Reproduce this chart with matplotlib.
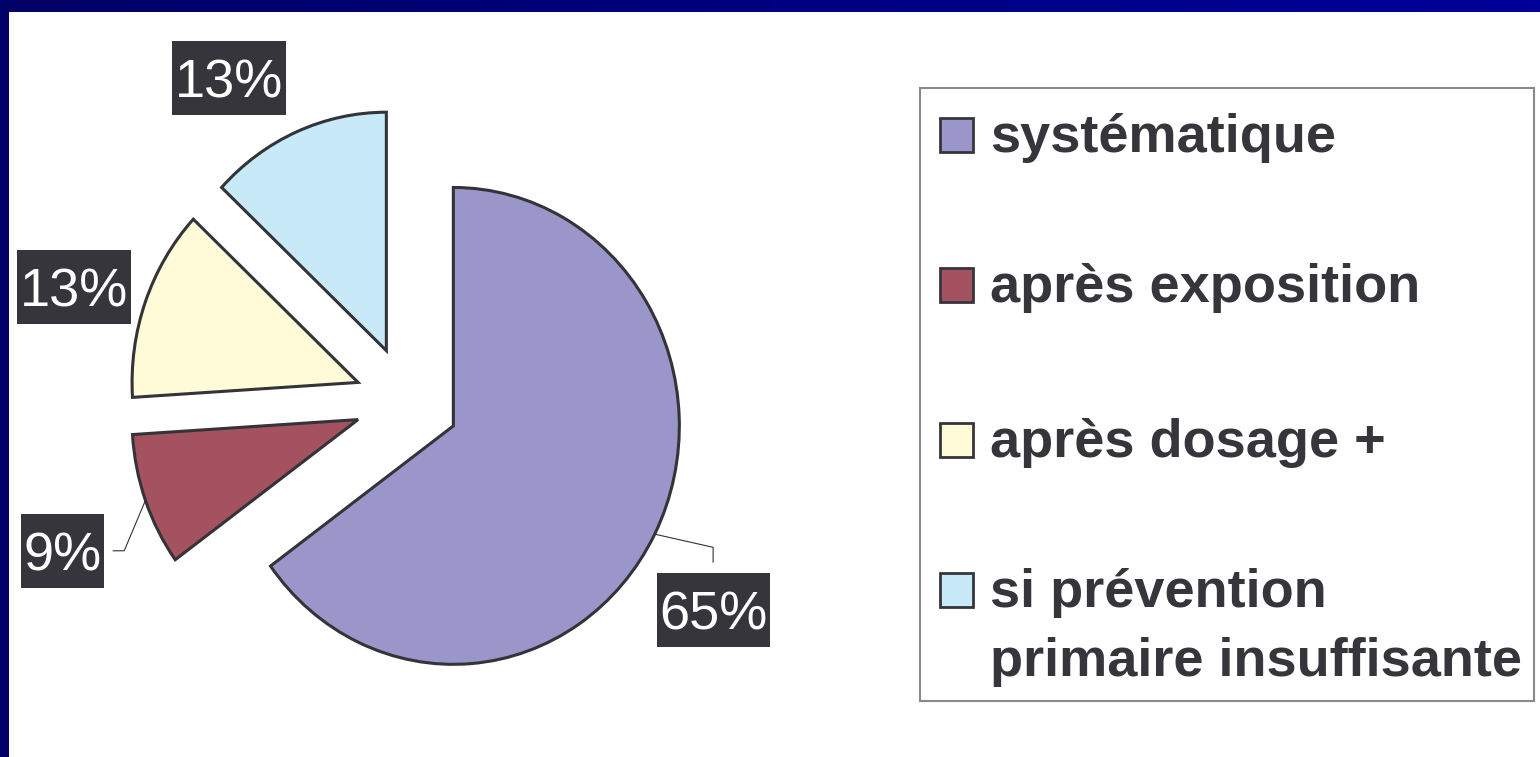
import numpy as np
import matplotlib.pyplot as plt
from matplotlib.patches import Rectangle
from matplotlib.colors import LinearSegmentedColormap
from matplotlib.transforms import IdentityTransform, ScaledTranslation

# données du camembert
categories = ['systématique', 'après exposition', 'après dosage +',
              'si prévention\nprimaire insuffisante']
parts = [65, 9, 13, 13]
pct_labels = ['65%', '9%', '13%', '13%']
colors = ['#9b96c9', '#a55260', '#fffad8', '#c7e9f8']

W, H = 1540, 757
SY = 1.055          # l'image d'origine est un peu étirée en hauteur
R = 226
DARK = '#36353b'
PCT_SIZE = 39

plt.rcParams['font.family'] = ['Liberation Sans', 'DejaVu Sans']

fig = plt.figure(figsize=(W / 100, H / 100), dpi=100)

# fond, bandeaux bleus et légende (coordonnées pixel, y vers le bas)
bg = fig.add_axes([0, 0, 1, 1])
navy = LinearSegmentedColormap.from_list('navy', ['#000066', '#00009a'])
bg.imshow(np.linspace(0, 1, 256).reshape(1, -1), cmap=navy,
          extent=(0, W, 12, 0), aspect='auto')
bg.add_patch(Rectangle((0, 0), 8.5, H, color='#000066', lw=0))
bg.set_xlim(0, W)
bg.set_ylim(H, 0)
bg.axis('off')

bg.add_patch(Rectangle((920, 88), 614, 613, fc='white', ec='#8a8a8a', lw=1.5))
rows_y = [135, 285, 440, 590]
for c, lab, y in zip(colors, categories, rows_y):
    bg.add_patch(Rectangle((940, y - 17), 33, 34, fc=c, ec=DARK, lw=2))
    for i, line in enumerate(lab.split('\n')):
        bg.text(990, y + 17 + i * 69, line, fontsize=39, fontweight='bold',
                color=DARK, ha='left', va='baseline')

# camembert
ax = fig.add_axes([0, 0, 1, 1])
cx, cy = 407, (H - 401) / SY
wedges, _ = ax.pie(parts, colors=colors, startangle=90, counterclock=False,
                   radius=R, center=(cx, cy), explode=[52] * 4, frame=True,
                   wedgeprops=dict(edgecolor='#333338', linewidth=2.2))
ax.set_aspect('auto')
ax.set_xlim(0, W)
ax.set_ylim(0, H / SY)
ax.axis('off')

# étiquettes de pourcentage
lab_dist = [1.385, 1.42, 1.32, 1.34]
lab_turn = [-6.9, 3.0, 2.1, 7.9]
# lignes de rappel (coude, extrémité) relatives à l'étiquette
leaders = {0: [(0, 59.5), (0, 45.5)], 1: [(62, 0), (51, 0)]}

renderer = fig.canvas.get_renderer()
shift = ScaledTranslation(0, -0.358 * PCT_SIZE / 72, fig.dpi_scale_trans)
for k, (w, txt, d, t) in enumerate(zip(wedges, pct_labels, lab_dist, lab_turn)):
    mid = np.deg2rad((w.theta1 + w.theta2) / 2)
    lx = w.center[0] + d * R * np.cos(mid + np.deg2rad(t))
    ly = w.center[1] + d * R * np.sin(mid + np.deg2rad(t))
    lab = ax.text(lx, ly, txt, ha='center', va='baseline', fontsize=PCT_SIZE,
                  color='white', transform=ax.transData + shift, zorder=5)
    # boîte sombre plus haute que le texte, comme dans l'original
    bw = lab.get_window_extent(renderer).width + 5
    px, py = ax.transData.transform((lx, ly))
    bg.add_patch(Rectangle((px - bw / 2, py - 37), bw, 74, fc=DARK, lw=0,
                           transform=IdentityTransform()))
    if k in leaders:
        ax_, ay_ = w.center[0] + R * np.cos(mid), w.center[1] + R * np.sin(mid)
        (ex, ey), (fx, fy) = leaders[k]
        ax.plot([ax_, lx + ex, lx + fx], [ay_, ly + ey, ly + fy],
                color='#333333', lw=0.8)

fig.savefig('out.png', dpi=100)
